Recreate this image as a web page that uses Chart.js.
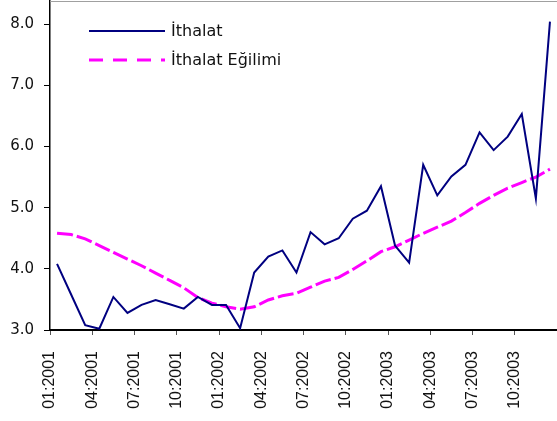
<!DOCTYPE html>
<html>
<head>
<meta charset="utf-8">
<script src="https://cdn.jsdelivr.net/npm/chart.js@4"></script>
<style>
  body { margin: 0; background: #fff; }
  canvas { display: block; }
</style>
</head>
<body>
<canvas id="import-chart" width="557" height="421"></canvas>
<script>
// Tick labels on the month axis (every third month)
const tickLabels = [
  '01:2001', '04:2001', '07:2001', '10:2001',
  '01:2002', '04:2002', '07:2002', '10:2002',
  '01:2003', '04:2003', '07:2003', '10:2003'
];

// Monthly imports, 01:2001 - 12:2003
const ithalat = [
  4.08, 3.58, 3.08, 3.02, 3.54, 3.28, 3.41, 3.49, 3.42, 3.35, 3.54, 3.41,
  3.41, 3.03, 3.94, 4.20, 4.30, 3.94, 4.60, 4.40, 4.50, 4.82, 4.95, 5.35,
  4.38, 4.10, 5.70, 5.20, 5.51, 5.70, 6.23, 5.94, 6.16, 6.53, 5.15, 8.04
];

// Trend series
const egilim = [
  4.58, 4.56, 4.49, 4.38, 4.27, 4.16, 4.05, 3.93, 3.81, 3.69, 3.53, 3.44,
  3.38, 3.34, 3.38, 3.49, 3.56, 3.60, 3.70, 3.80, 3.86, 3.99, 4.13, 4.28,
  4.36, 4.47, 4.58, 4.68, 4.78, 4.92, 5.07, 5.20, 5.32, 5.41, 5.50, 5.63
];

// Each month sits in the middle of its slot
const toPoints = arr => arr.map((v, i) => ({ x: i + 0.5, y: v }));

// Legend drawn inside the plot, top left
const insideLegend = {
  id: 'insideLegend',
  afterDraw(chart) {
    const c = chart.ctx;
    const area = chart.chartArea;
    c.save();
    // thin grey line on top of the plot
    c.strokeStyle = '#a0a0a0';
    c.lineWidth = 1;
    c.beginPath();
    c.moveTo(area.left, area.top + 0.5);
    c.lineTo(area.right, area.top + 0.5);
    c.stroke();

    c.font = '16px "DejaVu Sans"';
    c.textBaseline = 'middle';
    chart.data.datasets.forEach((ds, i) => {
      const y = 31 + i * 29;
      c.strokeStyle = ds.borderColor;
      c.lineWidth = ds.borderWidth;
      c.setLineDash(ds.borderDash ? [14, 10] : []);
      c.beginPath();
      c.moveTo(89, y);
      c.lineTo(165, y);
      c.stroke();
      c.setLineDash([]);
      c.fillStyle = '#111';
      c.fillText(ds.label, 171, y + 1);
    });
    c.restore();
  }
};

const ctx = document.getElementById('import-chart').getContext('2d');

const importChart = new Chart(ctx, {
  type: 'line',
  data: {
    datasets: [
      {
        label: 'İthalat',
        data: toPoints(ithalat),
        borderColor: '#000080',
        borderWidth: 2,
        pointRadius: 0,
        tension: 0
      },
      {
        label: 'İthalat Eğilimi',
        data: toPoints(egilim),
        borderColor: '#ff00ff',
        borderWidth: 3,
        borderDash: [16, 4],
        pointRadius: 0,
        tension: 0
      }
    ]
  },
  options: {
    responsive: false,
    animation: false,
    layout: { padding: { top: 1, right: 0, left: 0, bottom: 0 } },
    plugins: {
      legend: { display: false },
      tooltip: { enabled: false }
    },
    scales: {
      x: {
        type: 'linear',
        min: 0,
        max: 36,
        afterBuildTicks: scale => {
          scale.ticks = tickLabels.map((_, i) => ({ value: i * 3 }));
        },
        afterFit: scale => {
          scale.height = 91;
          scale.paddingLeft = 0;
          scale.paddingRight = 0;
        },
        border: { color: '#000', width: 2 },
        grid: { drawOnChartArea: false, drawTicks: true, tickLength: 5, color: '#555' },
        ticks: {
          autoSkip: false,
          maxRotation: 90,
          minRotation: 90,
          padding: 16,
          color: '#111',
          font: { family: '"Liberation Sans", Arial', size: 16 },
          callback: value => tickLabels[value / 3]
        }
      },
      y: {
        min: 3,
        max: 8.377,
        afterFit: scale => {
          scale.width = 50;
          scale.paddingTop = 0;
          scale.paddingBottom = 0;
        },
        border: { color: '#000', width: 1.5 },
        grid: { drawOnChartArea: false, drawTicks: true, tickLength: 6, color: '#000' },
        ticks: {
          stepSize: 1,
          includeBounds: false,
          padding: 10,
          color: '#111',
          font: { family: '"DejaVu Sans"', size: 15 },
          callback: value => value.toFixed(1)
        }
      }
    }
  },
  plugins: [insideLegend]
});
</script>
</body>
</html>
